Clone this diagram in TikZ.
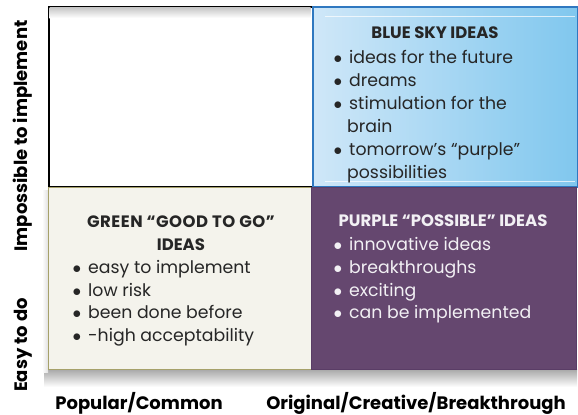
\documentclass[tikz,border=0pt]{standalone}
\usepackage{fontspec}
\setmainfont{Poppins}
\usetikzlibrary{positioning}

\definecolor{skyL}{HTML}{CFE7F8}
\definecolor{skyR}{HTML}{80C7EE}
\definecolor{skyEdge}{HTML}{2F78C0}
\definecolor{creamFill}{HTML}{F4F3EC}
\definecolor{creamEdge}{HTML}{A6A16A}
\definecolor{plum}{HTML}{65476F}
\definecolor{plumEdge}{HTML}{5A3D66}
\definecolor{ink}{HTML}{262626}
\definecolor{paleInk}{HTML}{F2F0F4}

\newcommand\bul{\makebox[17bp][l]{\hspace{1.5bp}$\bullet$}}
\newcommand\cont{\hspace*{15bp}}

\tikzset{
  quad/.style={rectangle, anchor=north west, inner sep=0pt},
  title/.style={font=\fontsize{16.5bp}{23bp}\selectfont\bfseries, align=center, inner sep=0pt},
  list/.style={font=\fontsize{17.3bp}{#1}\selectfont, align=left, anchor=north west, inner sep=0pt},
  list/.default={22.6bp},
  axis/.style={font=\fontsize{18bp}{20bp}\selectfont\bfseries, text=black, inner sep=0pt}
}

\begin{document}
\begin{tikzpicture}[x=1bp,y=-1bp]
\useasboundingbox (0,0) rectangle (578,414);

% soft shadow under the lower row
\shade[top color=black!35, bottom color=white] (44,369) rectangle (577,387);
\shade[left color=white, right color=black!12] (42,190) rectangle (48,372);

% quadrants
\node[quad, minimum width=264bp, minimum height=180bp, fill=white, draw=black, line width=1.6pt] (tl) at (48,6) {};
\shade[top color=black!22, bottom color=white] (49.5,7.5) rectangle (310.5,18);

\node[quad, minimum width=265bp, minimum height=180bp, left color=skyL, right color=skyR, draw=skyEdge, line width=1.6pt] (tr) at (312,6) {};
\draw[white, opacity=0.7, line width=0.6pt] (325,16) -- (575,16);
\draw[white, opacity=0.7, line width=0.6pt] (325,181) -- (575,181);

\node[quad, minimum width=263bp, minimum height=182bp, fill=creamFill, draw=creamEdge, line width=1.4pt] (bl) at (48,187) {};
\node[quad, minimum width=265bp, minimum height=182bp, fill=plum, draw=plumEdge, line width=1.2pt] (br) at (311,187) {};

% blue sky ideas
\node[title, text=ink] (skyT) at (435,33) {BLUE SKY IDEAS};
\node[list=23bp, text=ink] (skyL) at (332,50) {\bul ideas for the future\\ \bul dreams\\ \bul stimulation for the\\ \cont brain\\ \bul tomorrow’s “purple”\\ \cont possibilities};

% green good-to-go ideas
\node[title, text=ink] (grnT) at (181,233.5) {\addfontfeatures{LetterSpace=3}GREEN “GOOD TO GO”\\ IDEAS};
\node[list=22.4bp, text=ink] (grnL) at (71,260.5) {\bul easy to implement\\ \bul low risk\\ \bul been done before\\ \bul -high acceptability};

% purple possible ideas
\node[title, text=paleInk] (purT) at (443,221) {PURPLE “POSSIBLE” IDEAS};
\node[list=22.7bp, text=paleInk] (purL) at (332,237.5) {\bul innovative ideas\\ \bul breakthroughs\\ \bul exciting\\ \bul can be implemented};

% axis labels
\node[axis, rotate=90] (yHi) at (23,136) {Impossible to implement};
\node[axis, rotate=90] (yLo) at (23,345) {Easy to do};
\node[axis] (xLo) at (139,403) {Popular/Common};
\node[axis] (xHi) at (416,403) {Original/Creative/Breakthrough};
\end{tikzpicture}
\end{document}
